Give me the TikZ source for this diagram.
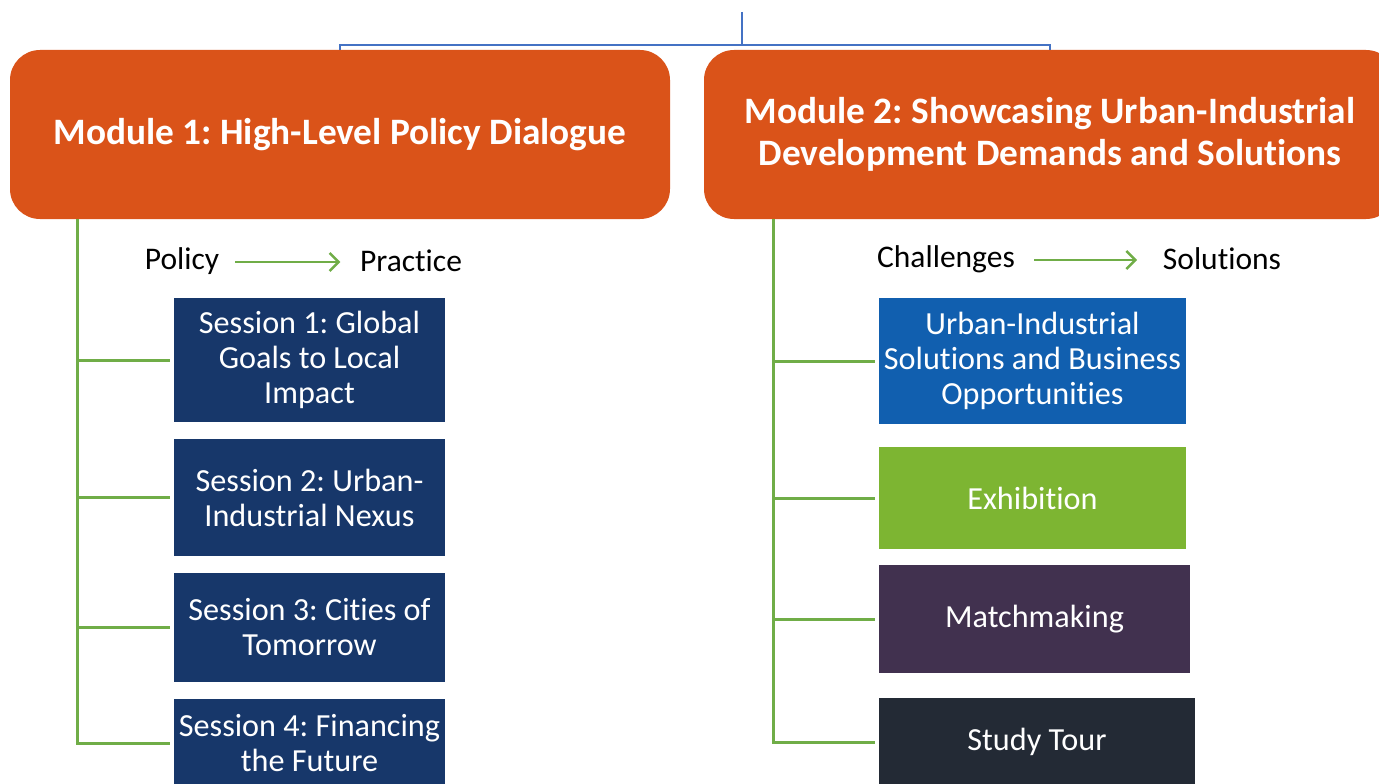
\documentclass[tikz,border=0pt]{standalone}
\usepackage{fontspec}
\setmainfont{Carlito}[Ligatures={NoCommon}]
\usetikzlibrary{positioning,arrows.meta}

\definecolor{modorange}{HTML}{DA5319}
\definecolor{sessblue}{HTML}{17376A}
\definecolor{solblue}{HTML}{115FAF}
\definecolor{exgreen}{HTML}{7DB532}
\definecolor{matchpurple}{HTML}{41314F}
\definecolor{tourgrey}{HTML}{232A35}
\definecolor{linkblue}{HTML}{4472C4}
\definecolor{linkgreen}{HTML}{70AD47}

\begin{document}
\frenchspacing
\begin{tikzpicture}[x=1pt, y=-1pt,
  module/.style = {fill=modorange, rounded corners=30pt, text=white, align=center, inner sep=0pt, font=\fontsize{37.3}{42}\selectfont\bfseries},
  box/.style = {text=white, align=center, inner sep=0pt, font=\fontsize{32.2}{35}\selectfont},
  label/.style = {font=\fontsize{31.5}{34}\selectfont, inner sep=0pt},
  trunk/.style = {draw=linkgreen, line width=3pt},
  hook/.style = {draw=linkblue, line width=2.5pt},
  flow/.style = {draw=linkgreen, line width=2.5pt, -{Straight Barb[length=9pt,width=18pt]}}]
  \useasboundingbox (0,0) rectangle (1379,784);
  \clip (0,0) rectangle (1379,784);

  \node[module, minimum width=660pt, minimum height=169pt] (m1) at (340,134.5) {Module 1: High-Level Policy Dialogue};
  \node[module, minimum width=692pt, minimum height=169pt] (m2) at (1050,134.5) {Module 2: Showcasing Urban-Industrial\\Development Demands and Solutions};

  % top connector
  \coordinate (top) at (742,12);
  \coordinate (hub) at (742,45);
  \draw[hook] (m1.north) |- (hub) -| (m2.north);
  \draw[hook] (top) -- (hub);

  % module 1 sessions
  \node[label] (p1) at (182,261) {Policy};
  \node[label] (p2) at (411,261) {Practice};
  \draw[flow] (p1.east) ++(16,1) -- ++(105,0);

  \node[box, fill=sessblue, minimum width=271pt, minimum height=124pt] (s1) at (309.5,360) {Session 1: Global\\Goals to Local\\Impact};
  \node[box, fill=sessblue, minimum width=271pt, minimum height=117pt] (s2) at (309.5,497.5) {Session 2: Urban-\\Industrial Nexus};
  \node[box, fill=sessblue, minimum width=271pt, minimum height=109pt] (s3) at (309.5,627.5) {Session 3: Cities of\\Tomorrow};
  \node[box, fill=sessblue, minimum width=271pt, minimum height=88pt] (s4) at (309.5,743) {Session 4: Financing\\the Future};

  \coordinate (l1) at (77,219);
  \draw[trunk] (l1) |- ([xshift=-4pt]s4.west);
  \draw[trunk] (l1 |- s1) -- ([xshift=-4pt]s1.west);
  \draw[trunk] (l1 |- s2) -- ([xshift=-4pt]s2.west);
  \draw[trunk] (l1 |- s3) -- ([xshift=-4pt]s3.west);

  % module 2 activities
  \node[label] (c1) at (946,259) {Challenges};
  \node[label] (c2) at (1222,259) {Solutions};
  \draw[flow] (c1.east) ++(19,1) -- ++(103,0);

  \node[box, fill=solblue, minimum width=307pt, minimum height=126pt] (r1) at (1032.5,361) {Urban-Industrial\\Solutions and Business\\Opportunities};
  \node[box, fill=exgreen, minimum width=307pt, minimum height=102pt] (r2) at (1032.5,498) {Exhibition};
  \node[box, fill=matchpurple, minimum width=311pt, minimum height=108pt] (r3) at (1034.5,619) {Matchmaking};
  \node[box, fill=tourgrey, minimum width=316pt, minimum height=88pt] (r4) at (1037,742) {Study Tour};

  \coordinate (l2) at (773,219);
  \draw[trunk] (l2) |- ([xshift=-4pt]r4.west);
  \draw[trunk] (l2 |- r1) -- ([xshift=-4pt]r1.west);
  \draw[trunk] (l2 |- r2) -- ([xshift=-4pt]r2.west);
  \draw[trunk] (l2 |- r3) -- ([xshift=-4pt]r3.west);
\end{tikzpicture}
\end{document}
